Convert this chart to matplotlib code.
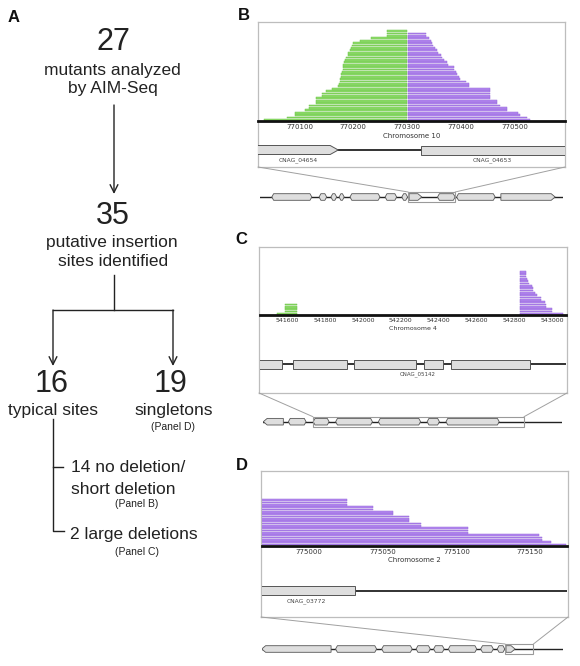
import matplotlib
matplotlib.use('Agg')
import matplotlib.pyplot as plt
from matplotlib.patches import Polygon, Rectangle, ConnectionPatch

W, H = 580, 666

# ---- panel A: flow chart text
a_counts = ['27', '35', '16', '19']
a_lines = ['mutants analyzed', 'by AIM-Seq', 'putative insertion', 'sites identified',
           'typical sites', 'singletons']
a_sub = ['14 no deletion/', 'short deletion', '2 large deletions']
a_refs = ['(Panel D)', '(Panel B)', '(Panel C)']

# ---- panel B: reads around insertion on chromosome 10 (bottom row first)
b_green_start = [770035, 770077, 770091, 770091, 770110, 770117, 770117, 770131,
                 770131, 770131, 770142, 770142, 770150, 770160, 770172, 770174,
                 770175, 770176, 770177, 770178, 770179, 770180, 770181, 770181,
                 770182, 770184, 770186, 770190, 770191, 770193, 770196, 770197,
                 770199, 770213, 770233, 770262, 770262, 770262]
b_green_end = 770299
b_purple_start = 770302
b_purple_end = [770528, 770522, 770510, 770506, 770485, 770485, 770472, 770466,
                770466, 770454, 770454, 770454, 770454, 770454, 770414, 770414,
                770410, 770398, 770396, 770393, 770390, 770386, 770386, 770376,
                770373, 770368, 770365, 770362, 770357, 770355, 770352, 770348,
                770346, 770344, 770340, 770335, 770335]
b_xlim = (770023, 770593)
b_ticks = [770100, 770200, 770300, 770400, 770500]
b_genes = [(769990, 770172, 'right'), (770326, 770650, 'box')]
b_gene_names = ['CNAG_04654', 'CNAG_04653']
b_name_pos = [770098, 770458]

# ---- panel C: chromosome 4, large deletion
c_green_start = [541545, 541590, 541590, 541590, 541590]
c_green_end = 541652
c_purple_start = 542829
c_purple_end = [543060, 543000, 543000, 542971, 542971, 542965, 542945, 542945,
                542920, 542910, 542900, 542900, 542895, 542880, 542875, 542870,
                542866, 542864, 542864]
c_xlim = (541456, 543075)
c_ticks = [541600, 541800, 542000, 542200, 542400, 542600, 542800, 543000]
c_genes = [(541430, 541574, 'box'), (541629, 541914, 'box'), (541955, 542279, 'box'),
           (542325, 542425, 'box'), (542465, 542884, 'box')]
c_gene_names = ['CNAG_05142']
c_name_pos = [542292]

# ---- panel D: chromosome 2, singleton
d_purple_start = 774950
d_purple_end = [775174, 775164, 775158, 775158, 775156, 775108, 775108, 775108,
                775076, 775076, 775068, 775068, 775068, 775057, 775057, 775043,
                775043, 775026, 775026, 775026]
d_xlim = (774968, 775175)
d_ticks = [775000, 775050, 775100, 775150]
d_genes = [(774940, 775031, 'box')]
d_gene_names = ['CNAG_03772']
d_name_pos = [774998]

# ---- overview tracks (percent of track width)
b_over = [(3.9, 17.1, 'hex'), (19.5, 22.0, 'hex'), (23.4, 25.3, 'hex'), (26.1, 27.8, 'hex'),
          (29.7, 39.6, 'hex'), (41.3, 45.1, 'hex'), (46.8, 48.7, 'hex'), (49.2, 53.4, 'right'),
          (58.6, 64.4, 'hex'), (64.9, 77.6, 'hex'), (79.5, 97.4, 'right')]
b_over_hl = (48.9, 64.4)
c_over = [(0.1, 6.8, 'left'), (8.5, 14.4, 'hex'), (16.8, 22.1, 'hex'), (24.3, 36.6, 'hex'),
          (38.6, 52.7, 'hex'), (54.9, 59.0, 'hex'), (61.2, 79.0, 'hex')]
c_over_hl = (16.7, 87.3)
d_over = [(0.0, 23.0, 'left'), (24.5, 38.1, 'hex'), (39.8, 49.9, 'hex'), (51.2, 55.9, 'hex'),
          (57.0, 60.5, 'hex'), (61.9, 71.3, 'hex'), (72.6, 76.8, 'hex'), (78.1, 80.6, 'hex'),
          (81.0, 84.0, 'right')]
d_over_hl = (80.7, 90.1)

GREEN = '#8fdd6b'
GREEN_EDGE = '#6cc24a'
PURPLE = '#b488f0'
PURPLE_EDGE = '#9468d8'
GENE_FACE = '#dedede'
GENE_EDGE = '#555555'
BAR_H = 0.72


def rect(x0, y0, x1, y1):
    return [x0 / W, 1 - y1 / H, (x1 - x0) / W, (y1 - y0) / H]


def gene(ax, x0, x1, h, kind, tip, lw=0.6):
    if kind == 'right':
        pts = [(x0, -h), (x1 - tip, -h), (x1, 0), (x1 - tip, h), (x0, h)]
    elif kind == 'left':
        pts = [(x0 + tip, -h), (x1, -h), (x1, h), (x0 + tip, h), (x0, 0)]
    elif kind == 'hex':
        pts = [(x0 + tip, -h), (x1 - tip, -h), (x1, 0), (x1 - tip, h), (x0 + tip, h), (x0, 0)]
    else:
        pts = [(x0, -h), (x1, -h), (x1, h), (x0, h)]
    ax.add_patch(Polygon(pts, closed=True, facecolor=GENE_FACE, edgecolor=GENE_EDGE,
                         lw=lw, zorder=3))


fig = plt.figure(figsize=(W / 100, H / 100), dpi=100)

# ================= panel A =================
ax0 = fig.add_axes([0, 0, 1, 1])
ax0.set_xlim(0, W)
ax0.set_ylim(H, 0)
ax0.axis('off')
fa = dict(family=['Liberation Sans', 'DejaVu Sans'], color='#222222', ha='center', va='center')
ax0.text(113, 42, a_counts[0], fontsize=22, **fa)
ax0.text(112, 70, a_lines[0], fontsize=12.5, **fa)
ax0.text(113, 88, a_lines[1], fontsize=12.5, **fa)
ax0.text(113, 216, a_counts[1], fontsize=22, **fa)
ax0.text(112, 243, a_lines[2], fontsize=12.5, **fa)
ax0.text(113, 262, a_lines[3], fontsize=12.5, **fa)
ax0.text(52, 384, a_counts[2], fontsize=22, **fa)
ax0.text(171, 384, a_counts[3], fontsize=22, **fa)
ax0.text(53, 410, a_lines[4], fontsize=12.5, **fa)
ax0.text(174, 410, a_lines[5], fontsize=12.5, **fa)
ax0.text(173, 427, a_refs[0], fontsize=7.5, **fa)
fl = dict(family=['Liberation Sans', 'DejaVu Sans'], color='#222222', ha='left', va='center')
ax0.text(71, 467, a_sub[0], fontsize=12.5, **fl)
ax0.text(71, 489, a_sub[1], fontsize=12.5, **fl)
ax0.text(137, 504, a_refs[1], fontsize=7.5, **fa)
ax0.text(70, 535, a_sub[2], fontsize=12.5, **fl)
ax0.text(137, 552, a_refs[2], fontsize=7.5, **fa)

arr = dict(arrowstyle='->', lw=1.0, color='#222222', shrinkA=0, shrinkB=0, mutation_scale=14)
ax0.annotate('', xy=(114, 194), xytext=(114, 105), arrowprops=arr)
ax0.plot([114, 114], [275, 310], color='#222222', lw=1.0)
ax0.plot([53, 173], [310, 310], color='#222222', lw=1.0)
ax0.annotate('', xy=(53, 366), xytext=(53, 310), arrowprops=arr)
ax0.annotate('', xy=(173, 366), xytext=(173, 310), arrowprops=arr)
ax0.plot([53, 53, 64], [419, 531, 531], color='#222222', lw=1.0)
ax0.plot([53, 63], [467, 467], color='#222222', lw=1.0)

lab = dict(family=['Liberation Sans', 'DejaVu Sans'], fontsize=12, fontweight='bold',
           color='#111111', ha='center', va='center')
ax0.text(14, 17, 'A', **lab)
ax0.text(244, 16, 'B', **lab)
ax0.text(241, 240, 'C', **lab)
ax0.text(242, 466, 'D', **lab)


def box_axes(x0, y0, x1, y1):
    ax = fig.add_axes(rect(x0, y0, x1, y1))
    ax.set_xticks([])
    ax.set_yticks([])
    ax.set_facecolor('white')
    for s in ax.spines.values():
        s.set_color('#bdbdbd')
        s.set_linewidth(0.9)
    return ax


def hist_axes(pos, xlim, ylim, ticks, chrom, fs):
    ax = fig.add_axes(pos)
    ax.set_facecolor('none')
    ax.set_xlim(*xlim)
    ax.set_ylim(*ylim)
    for s in ['top', 'left', 'right']:
        ax.spines[s].set_visible(False)
    ax.spines['bottom'].set_linewidth(2.0)
    ax.spines['bottom'].set_color('#111111')
    ax.set_yticks([])
    ax.set_xticks(ticks)
    ax.set_xticklabels([str(t) for t in ticks])
    ax.tick_params(axis='x', length=0, pad=2.5, labelsize=fs, labelcolor='#333333')
    ax.set_xlabel(chrom, fontsize=fs, color='#333333', labelpad=1.5)
    return ax


def reads(ax, starts, ends, face, edge):
    ax.barh(range(len(starts)), [e - s for s, e in zip(starts, ends)], left=starts,
            height=BAR_H, color=face, edgecolor=edge, lw=0.35)


def gene_axes(pos, xlim, genes, names, name_pos, fs, tip):
    ax = fig.add_axes(pos)
    ax.set_facecolor('none')
    ax.set_xlim(*xlim)
    ax.set_ylim(-16, 12)
    ax.axis('off')
    ax.plot(xlim, [0, 0], color='#222222', lw=1.3, zorder=2)
    for g0, g1, k in genes:
        gene(ax, g0, g1, 4.5, k, tip, lw=0.7)
    for n, p in zip(names, name_pos):
        ax.text(p, -10, n, fontsize=fs, color='#444444', ha='center', va='center')
    return ax


def over_axes(pos, genes, hl):
    ax = fig.add_axes(pos)
    ax.set_facecolor('none')
    ax.set_xlim(0, 100)
    ax.set_ylim(-10, 10)
    ax.axis('off')
    ax.plot([0, 100], [0, 0], color='#222222', lw=1.0, zorder=2)
    for g0, g1, k in genes:
        gene(ax, g0, g1, 3.3, k, 1.3 if k != 'hex' else 0.6)
    ax.add_patch(Rectangle((hl[0], -5), hl[1] - hl[0], 10, facecolor='none',
                           edgecolor='#9a9a9a', lw=0.8, zorder=4))
    return ax


def connect(box, over, hl):
    for bx, ox in [(0, hl[0]), (1, hl[1])]:
        con = ConnectionPatch(xyA=(bx, 0), coordsA=box.transAxes,
                              xyB=(ox, 5), coordsB=over.transData,
                              color='#a0a0a0', lw=0.7)
        fig.add_artist(con)


# ================= panel B =================
bb = box_axes(258, 22, 565, 167)
hb = hist_axes(rect(258, 26, 565, 121), b_xlim, (-0.45, 39.1), b_ticks, 'Chromosome 10', 5)
reads(hb, b_green_start, [b_green_end] * len(b_green_start), GREEN, GREEN_EDGE)
reads(hb, [b_purple_start] * len(b_purple_end), b_purple_end, PURPLE, PURPLE_EDGE)
gene_axes(rect(258, 138, 565, 166), b_xlim, b_genes, b_gene_names, b_name_pos, 4.3, 15)
ob = over_axes(rect(260, 187, 563, 207), b_over, b_over_hl)
connect(bb, ob, b_over_hl)

# ================= panel C =================
cb = box_axes(259, 247, 567, 393)
hc = hist_axes(rect(260, 250, 566, 315), c_xlim, (-0.45, 27.4), c_ticks, 'Chromosome 4', 4.5)
reads(hc, c_green_start, [c_green_end] * len(c_green_start), GREEN, GREEN_EDGE)
reads(hc, [c_purple_start] * len(c_purple_end), c_purple_end, PURPLE, PURPLE_EDGE)
gene_axes(rect(260, 352, 566, 380), c_xlim, c_genes, c_gene_names, c_name_pos, 4.0, 0)
oc = over_axes(rect(263, 411.7, 562, 431.7), c_over, c_over_hl)
connect(cb, oc, c_over_hl)

# ================= panel D =================
db = box_axes(261, 471, 568, 617)
hd = hist_axes(rect(262, 475, 567, 545.7), d_xlim, (-0.45, 29.8), d_ticks, 'Chromosome 2', 5)
reads(hd, [d_purple_start] * len(d_purple_end), d_purple_end, PURPLE, PURPLE_EDGE)
gene_axes(rect(262, 578.7, 567, 606.7), d_xlim, d_genes, d_gene_names, d_name_pos, 4.3, 0)
od = over_axes(rect(261.7, 639, 563.3, 659), d_over, d_over_hl)
connect(db, od, d_over_hl)

fig.savefig('out.png', dpi=100)
